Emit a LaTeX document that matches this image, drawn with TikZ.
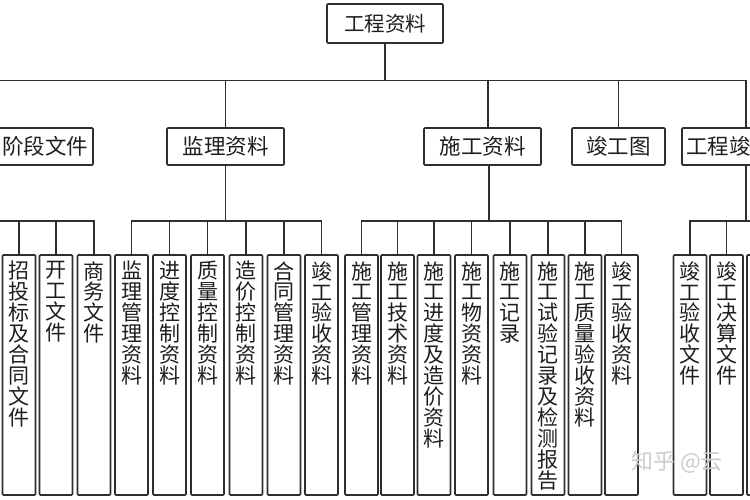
\documentclass[tikz,border=0pt]{standalone}
\usepackage{fontspec}
\setmainfont{Noto Sans CJK SC}
\definecolor{ln}{HTML}{2E2E2E}
\definecolor{tx}{HTML}{1E1E1E}
\begin{document}
\begin{tikzpicture}[x=1pt,y=-1pt,
  conn/.style={draw=ln, line width=1.3pt},
  box/.style={draw=ln, line width=1.7pt, fill=white, rounded corners=1pt, inner sep=0pt, text=tx},
  rootbox/.style={box, minimum width=116pt, minimum height=39pt, font=\fontsize{20.5}{24}\selectfont},
  lvtwo/.style={box, minimum height=37pt, font=\fontsize{21.5}{24}\selectfont},
  lvthree/.style={box, minimum width=33pt, minimum height=240pt},
  vtxt/.style={anchor=north, inner sep=0pt, align=center, font=\fontsize{21}{20.9}\selectfont, text=tx},
  wmark/.style={anchor=west, inner sep=0pt, font=\fontsize{22}{24}\selectfont, text=black!20}]
\useasboundingbox (0,0) rectangle (750,500);
\fill[white] (0,0) rectangle (750,500);

% root and second level
\node[rootbox] (root) at (385,23.5) {工程资料};
\node[lvtwo, minimum width=206pt, text width=197pt, align=right, inner xsep=4.5pt] (jd) at (-10,146.5) {阶段文件};
\node[lvtwo, minimum width=117pt] (jl) at (225.5,146.5) {监理资料};
\node[lvtwo, minimum width=117pt] (sg) at (482.5,146.5) {施工资料};
\node[lvtwo, minimum width=93pt] (jgt) at (618.5,146.5) {竣工图};
\node[lvtwo, minimum width=128pt, text width=120pt, align=left, inner xsep=4pt] (gj) at (746,146.5) {工程竣};

% third level boxes
\node[lvthree] (c1) at (19,375) {};
\node[lvthree] (c2) at (56,375) {};
\node[lvthree] (c3) at (94,375) {};
\node[lvthree] (c4) at (131.5,375) {};
\node[lvthree] (c5) at (169.5,375) {};
\node[lvthree] (c6) at (207.5,375) {};
\node[lvthree] (c7) at (246,375) {};
\node[lvthree] (c8) at (284,375) {};
\node[lvthree] (c9) at (321.5,375) {};
\node[lvthree] (c10) at (361.5,375) {};
\node[lvthree] (c11) at (397.5,375) {};
\node[lvthree] (c12) at (434,375) {};
\node[lvthree] (c13) at (471.5,375) {};
\node[lvthree] (c14) at (510,375) {};
\node[lvthree] (c15) at (548,375) {};
\node[lvthree] (c16) at (585,375) {};
\node[lvthree] (c17) at (621.5,375) {};
\node[lvthree] (c18) at (690,375) {};
\node[lvthree] (c19) at (726.5,375) {};
\node[lvthree] (c20) at (763.5,375) {};

% vertical texts
\node[vtxt] (t1) at ([yshift=-7pt]c1.north) {招\\投\\标\\及\\合\\同\\文\\件};
\node[vtxt] (t2) at ([yshift=-7pt]c2.north) {开\\工\\文\\件};
\node[vtxt] (t3) at ([yshift=-7pt]c3.north) {商\\务\\文\\件};
\node[vtxt] (t4) at ([yshift=-7pt]c4.north) {监\\理\\管\\理\\资\\料};
\node[vtxt] (t5) at ([yshift=-7pt]c5.north) {进\\度\\控\\制\\资\\料};
\node[vtxt] (t6) at ([yshift=-7pt]c6.north) {质\\量\\控\\制\\资\\料};
\node[vtxt] (t7) at ([yshift=-7pt]c7.north) {造\\价\\控\\制\\资\\料};
\node[vtxt] (t8) at ([yshift=-7pt]c8.north) {合\\同\\管\\理\\资\\料};
\node[vtxt] (t9) at ([yshift=-7pt]c9.north) {竣\\工\\验\\收\\资\\料};
\node[vtxt] (t10) at ([yshift=-7pt]c10.north) {施\\工\\管\\理\\资\\料};
\node[vtxt] (t11) at ([yshift=-7pt]c11.north) {施\\工\\技\\术\\资\\料};
\node[vtxt] (t12) at ([yshift=-7pt]c12.north) {施\\工\\进\\度\\及\\造\\价\\资\\料};
\node[vtxt] (t13) at ([yshift=-7pt]c13.north) {施\\工\\物\\资\\资\\料};
\node[vtxt] (t14) at ([yshift=-7pt]c14.north) {施\\工\\记\\录};
\node[vtxt] (t15) at ([yshift=-7pt]c15.north) {施\\工\\试\\验\\记\\录\\及\\检\\测\\报\\告};
\node[vtxt] (t16) at ([yshift=-7pt]c16.north) {施\\工\\质\\量\\验\\收\\资\\料};
\node[vtxt] (t17) at ([yshift=-7pt]c17.north) {竣\\工\\验\\收\\资\\料};
\node[vtxt] (t18) at ([yshift=-7pt]c18.north) {竣\\工\\验\\收\\文\\件};
\node[vtxt] (t19) at ([yshift=-7pt]c19.north) {竣\\工\\决\\算\\文\\件};

% connectors: root to second level
\draw[conn] (root.south) -- ++(0,37) coordinate (tb);
\draw[conn] (tb) -| (jd.north);
\draw[conn] (tb) -| (jl.north);
\draw[conn] (tb) -| ([xshift=5.5pt]sg.north);
\draw[conn] (tb) -| (jgt.north);
\draw[conn] (tb) -| (gj.north);

% second level to third level
\draw[conn] (jd.south) -- ++(0,55) coordinate (bj);
\foreach \c in {c1,c2,c3} \draw[conn] (bj) -| (\c.north);
\draw[conn] (jl.south) -- ++(0,55) coordinate (bl);
\foreach \c in {c4,c5,c6,c7,c8,c9} \draw[conn] (bl) -| (\c.north);
\draw[conn] ([xshift=6.5pt]sg.south) -- ++(0,55) coordinate (bs);
\foreach \c in {c10,c11,c12,c13,c14,c15,c16,c17} \draw[conn] (bs) -| (\c.north);
\draw[conn] (gj.south) -- ++(0,55) coordinate (bg);
\foreach \c in {c18,c19,c20} \draw[conn] (bg) -| (\c.north);

% watermark
\node[wmark] (wm) at (631,462) {知乎 @云};
\end{tikzpicture}
\end{document}
